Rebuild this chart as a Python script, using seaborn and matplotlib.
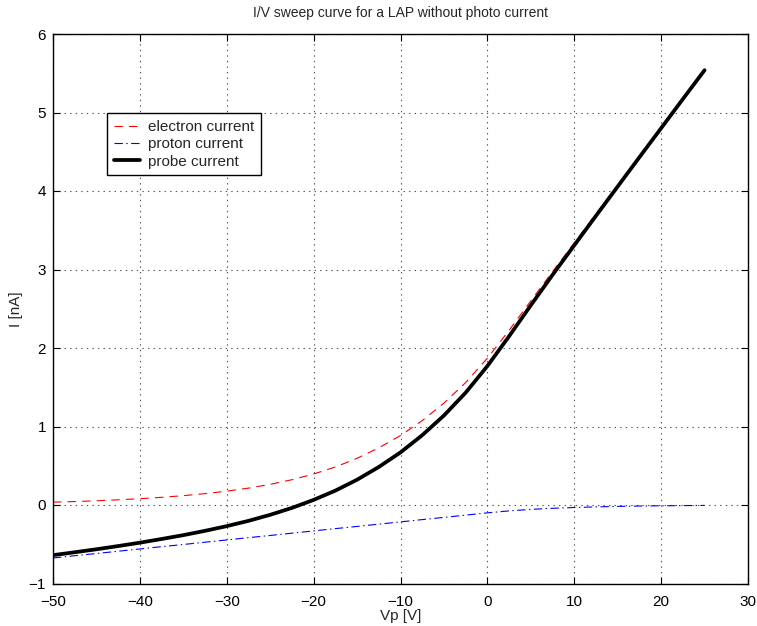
import matplotlib
matplotlib.use("Agg")
import matplotlib.pyplot as plt
import seaborn as sns
import pandas as pd

# ---- data ----
vp = [-50, -47.5, -45, -42.5, -40, -37.5, -35, -32.5, -30, -27.5, -25, -22.5,
      -20, -17.5, -15, -12.5, -10, -7.5, -5, -2.5, 0, 2.5, 5, 7.5, 10, 12.5,
      15, 17.5, 20, 22.5, 25]
electron = [0.036, 0.044, 0.054, 0.066, 0.080, 0.098, 0.119, 0.145, 0.176, 0.215,
            0.263, 0.322, 0.395, 0.484, 0.595, 0.728, 0.885, 1.075, 1.298, 1.560,
            1.870, 2.225, 2.600, 2.973, 3.340, 3.708, 4.075, 4.443, 4.810, 5.178, 5.545]
proton = [-0.675, -0.646, -0.618, -0.589, -0.560, -0.531, -0.503, -0.474, -0.445,
          -0.416, -0.388, -0.359, -0.330, -0.301, -0.273, -0.244, -0.215, -0.186,
          -0.158, -0.129, -0.100, -0.075, -0.056, -0.042, -0.032, -0.024, -0.018,
          -0.013, -0.010, -0.0075, -0.0056]
probe = [-0.639, -0.602, -0.564, -0.523, -0.480, -0.433, -0.384, -0.329, -0.269,
         -0.202, -0.125, -0.037, 0.065, 0.183, 0.322, 0.484, 0.670, 0.889, 1.140,
         1.431, 1.770, 2.150, 2.544, 2.931, 3.308, 3.684, 4.057, 4.430, 4.800,
         5.171, 5.539]
labels = ["electron current", "proton current", "probe current"]
x_ticks = [-50, -40, -30, -20, -10, 0, 10, 20, 30]
y_ticks = [-1, 0, 1, 2, 3, 4, 5, 6]

sns.set_style("ticks")
plt.rcParams["font.family"] = ["Liberation Sans", "DejaVu Sans"]
plt.rcParams["lines.scale_dashes"] = False
plt.rcParams["axes.unicode_minus"] = True

df = pd.DataFrame({"Vp": vp, "electron": electron, "proton": proton, "probe": probe})

fig = plt.figure(figsize=(7.57, 6.26), dpi=100)
ax = fig.add_axes([53 / 757, 1 - 583.5 / 626, 695 / 757, 549.5 / 626])

sns.lineplot(data=df, x="Vp", y="electron", ax=ax, color="red", lw=0.8,
             linestyle=(0, (6, 4.5)), label=labels[0], sort=False, estimator=None)
sns.lineplot(data=df, x="Vp", y="proton", ax=ax, color="blue", lw=0.8,
             linestyle=(0, (6, 2.5, 1, 2.5)), label=labels[1], sort=False, estimator=None)
sns.lineplot(data=df, x="Vp", y="probe", ax=ax, color="black", lw=2.7,
             label=labels[2], sort=False, estimator=None)

ax.set_xlim(-50, 30)
ax.set_ylim(-1, 6)
ax.set_xticks(x_ticks)
ax.set_yticks(y_ticks)
ax.grid(True, linestyle=(0, (1, 3)), color="#555555", linewidth=0.8)
ax.tick_params(direction="in", length=5, width=0.8, top=True, right=True,
               labelsize=11, colors="black")
ax.tick_params(axis="x", pad=8)
ax.tick_params(axis="y", pad=5)
for s in ax.spines.values():
    s.set_visible(True)
    s.set_linewidth(1.0)
    s.set_color("black")

ax.set_xlabel("Vp [V]", fontsize=11, labelpad=0)
ax.set_ylabel("I [nA]", fontsize=11, labelpad=4)
ax.set_title("I/V sweep curve for a LAP without photo current", fontsize=10, pad=12)

leg = ax.legend(loc="upper left", bbox_to_anchor=((107 - 53) / 695, 1 - (113 - 34) / 549.5),
                borderaxespad=0, fontsize=11, handlelength=1.7, handletextpad=0.55,
                labelspacing=0.22, borderpad=0.45, fancybox=False, framealpha=1,
                edgecolor="black")
leg.get_frame().set_linewidth(1.0)

fig.savefig("out.png", dpi=100, facecolor="white")
